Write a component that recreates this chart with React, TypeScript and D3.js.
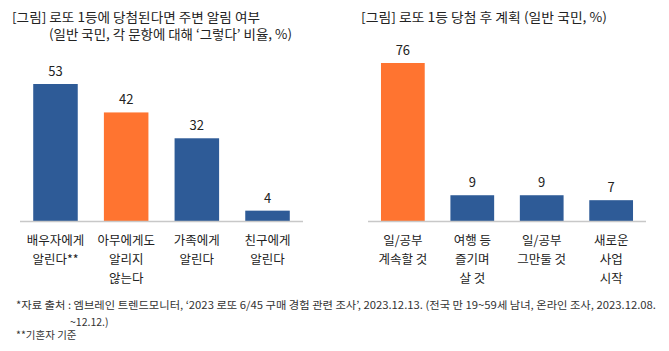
import React from "react";
import * as d3 from "d3";

// left chart: 로또 1등 당첨 시 주변 알림 여부
const leftCategories = [
  ["배우자에게", "알린다**"],
  ["아무에게도", "알리지", "않는다"],
  ["가족에게", "알린다"],
  ["친구에게", "알린다"],
];
const leftValues = [53, 42, 32, 4];
const leftHighlight = [false, true, false, false];

// right chart: 로또 1등 당첨 후 계획
const rightCategories = [
  ["일/공부", "계속할 것"],
  ["여행 등", "즐기며", "살 것"],
  ["일/공부", "그만둘 것"],
  ["새로운", "사업", "시작"],
];
const rightValues = [76, 9, 9, 7];
const rightHighlight = [true, false, false, false];

const W = 669;
const H = 351;
const FONT = "'Noto Sans CJK KR', 'Noto Sans', sans-serif";
const BLUE = "#2e5b97";
const ORANGE = "#ff7430";
const TEXT = "#222";
const BASE = 221;

type PanelProps = {
  cats: string[][];
  values: number[];
  highlight: boolean[];
  x0: number;
  x1: number;
  y: d3.ScaleContinuousNumeric<number, number>;
};

const Panel = ({ cats, values, highlight, x0, x1, y }: PanelProps) => {
  const x = d3
    .scaleBand<number>()
    .domain(d3.range(values.length))
    .range([x0, x1])
    .paddingInner(0.37)
    .paddingOuter(0.187);

  return (
    <g>
      {values.map((v, i) => (
        <g key={i}>
          <rect
            x={x(i)}
            y={y(v)}
            width={x.bandwidth()}
            height={BASE - y(v)}
            fill={highlight[i] ? ORANGE : BLUE}
          />
          <text
            x={(x(i) ?? 0) + x.bandwidth() / 2}
            y={y(v) - 8}
            textAnchor="middle"
            fontSize={13}
            fill={TEXT}
          >
            {v}
          </text>
          {cats[i].map((line, j) => (
            <text
              key={j}
              x={(x(i) ?? 0) + x.bandwidth() / 2}
              y={245 + j * 19}
              textAnchor="middle"
              fontSize={12.5}
              fill={TEXT}
            >
              {line}
            </text>
          ))}
        </g>
      ))}
      <line x1={x0} x2={x1} y1={BASE + 0.5} y2={BASE + 0.5} stroke="#c8c8c8" strokeWidth={1.5} />
    </g>
  );
};

export default function App() {
  const yLeft = d3.scaleLinear().domain([0, 53]).range([BASE, 84]);
  // the right panel in the source isn't drawn to a linear scale
  const yRight = d3.scalePow().exponent(0.85).domain([0, 76]).range([BASE, 63]);

  return (
    <svg
      width={W}
      height={H}
      viewBox={`0 0 ${W} ${H}`}
      style={{ position: "absolute", left: 0, top: 0, background: "#fff", fontFamily: FONT }}
    >
      <text x={12} y={22} fontSize={13} fill={TEXT} textLength={248} lengthAdjust="spacingAndGlyphs">
        [그림] 로또 1등에 당첨된다면 주변 알림 여부
      </text>
      <text x={49} y={39} fontSize={13} fill={TEXT} textLength={243} lengthAdjust="spacingAndGlyphs">
        (일반 국민, 각 문항에 대해 ‘그렇다’ 비율, %)
      </text>
      <text x={361} y={22} fontSize={13} fill={TEXT} textLength={246} lengthAdjust="spacingAndGlyphs">
        [그림] 로또 1등 당첨 후 계획 (일반 국민, %)
      </text>

      <Panel cats={leftCategories} values={leftValues} highlight={leftHighlight} x0={20} x1={303} y={yLeft} />
      <Panel cats={rightCategories} values={rightValues} highlight={rightHighlight} x0={368} x1={646} y={yRight} />

      <text x={16} y={309} fontSize={10.5} fill="#333" textLength={640} lengthAdjust="spacingAndGlyphs">
        *자료 출처 : 엠브레인 트렌드모니터, ‘2023 로또 6/45 구매 경험 관련 조사’, 2023.12.13. (전국 만 19~59세 남녀, 온라인 조사, 2023.12.08.
      </text>
      <text x={70} y={326} fontSize={10.5} fill="#333">
        ~12.12.)
      </text>
      <text x={16} y={339} fontSize={10.5} fill="#333">
        **기혼자 기준
      </text>
    </svg>
  );
}
